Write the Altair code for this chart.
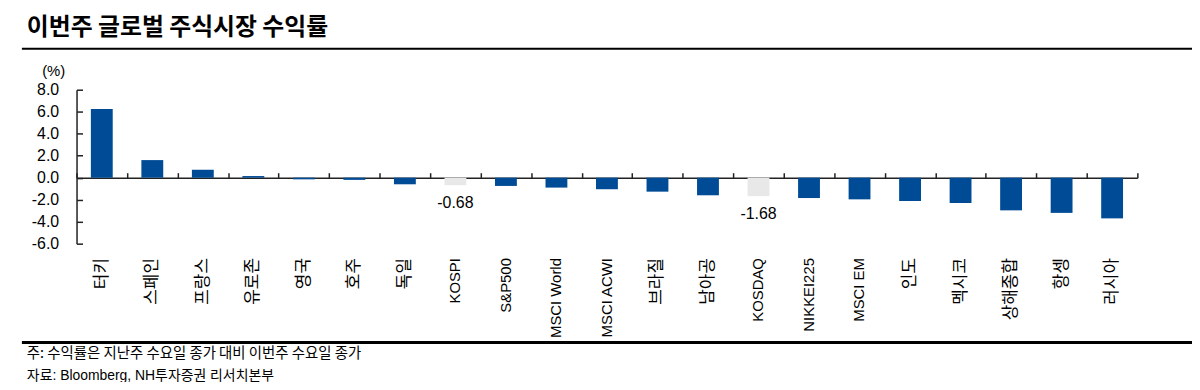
import altair as alt
import pandas as pd

title_text = "이번주 글로벌 주식시장 수익률"
unit_text = "(%)"
note1_text = "주: 수익률은 지난주 수요일 종가 대비 이번주 수요일 종가"
note2_text = "자료: Bloomberg, NH투자증권 리서치본부"

names = ["터키", "스페인", "프랑스", "유로존", "영국", "호주", "독일", "KOSPI", "S&P500",
         "MSCI World", "MSCI ACWI", "브라질", "남아공", "KOSDAQ", "NIKKEI225", "MSCI EM",
         "인도", "멕시코", "상해종합", "항셍", "러시아"]
values = [6.25, 1.6, 0.73, 0.15, -0.15, -0.2, -0.6, -0.68, -0.75,
          -0.9, -1.05, -1.27, -1.6, -1.68, -1.85, -1.97,
          -2.12, -2.3, -2.97, -3.2, -3.7]
highlight = ["KOSPI", "KOSDAQ"]
y_ticks = [-6, -4, -2, 0, 2, 4, 6, 8]

df = pd.DataFrame({"name": names, "value": values})
df["grp"] = ["hl" if n in highlight else "base" for n in names]
df["lbl"] = [f"{v:.2f}" for v in values]
hl_df = df[df["grp"] == "hl"]

W, H = 1068, 155
FONT = "Liberation Sans, Arial, Noto Sans CJK KR, sans-serif"
KFONT = "Noto Sans CJK KR, sans-serif"

xscale = alt.Scale(paddingInner=0, paddingOuter=0)
yscale = alt.Scale(domain=[-6, 8], nice=False, zero=False)

bars = alt.Chart(df).mark_bar(size=22).encode(
    x=alt.X("name:N", sort=None, scale=xscale,
            axis=alt.Axis(orient="bottom", title=None, domain=False, ticks=False, tickSize=0,
                          labelAngle=270,
                          labelFontSize=alt.condition("test(/[A-Za-z]/, datum.label)",
                                                      alt.value(15), alt.value(17)),
                          labelColor="#000", labelFont=FONT,
                          labelPadding=14, labelLimit=300)),
    y=alt.Y("value:Q", scale=yscale,
            axis=alt.Axis(orient="left", title=None, domain=False, ticks=False, tickSize=0,
                          values=y_ticks, grid=False, labelFontSize=16,
                          labelExpr="replace(format(datum.value, '.1f'), '\u2212', '-')",
                          labelColor="#000", labelFont=FONT, labelPadding=18)),
    color=alt.Color("grp:N", scale=alt.Scale(domain=["base", "hl"], range=["#004B96", "#E8E8E8"]),
                    legend=None),
)

value_labels = alt.Chart(hl_df).mark_text(baseline="top", dy=10, fontSize=16, font=FONT,
                                          color="#000").encode(
    x=alt.X("name:N", sort=None, scale=xscale, axis=None),
    y=alt.Y("value:Q", scale=yscale, axis=None),
    text=alt.Text("lbl:N"),
)

struct = alt.Chart(df).mark_bar(opacity=0).encode(
    x=alt.X("name:N", sort=None, scale=xscale,
            axis=alt.Axis(orient="top", offset=-(8 / 14) * H, title=None, labels=False,
                          domain=True, domainColor="#222", domainWidth=1.5,
                          ticks=True, tickSize=5, tickColor="#222", tickWidth=1.5,
                          tickBand="extent", grid=False)),
    y=alt.Y("value:Q", scale=yscale,
            axis=alt.Axis(orient="right", offset=-W, title=None, labels=False,
                          domain=True, domainColor="#222", domainWidth=1.5,
                          ticks=True, tickSize=6, tickColor="#222", tickWidth=1.5,
                          values=y_ticks, grid=False)),
)

one = pd.DataFrame({"k": [0]})

title_mark = alt.Chart(one).mark_text(text=title_text, align="left", baseline="alphabetic",
                                      fontSize=24, fontWeight="bold", font=KFONT,
                                      color="#000").encode(
    x=alt.value(-50), y=alt.value(-55))
underline = alt.Chart(one).mark_rule(color="#000", strokeWidth=2).encode(
    x=alt.value(-55), x2=alt.value(1123), y=alt.value(-41.3))
unit_mark = alt.Chart(one).mark_text(text=unit_text, align="center", baseline="alphabetic",
                                     fontSize=15, font=FONT, color="#000").encode(
    x=alt.value(-23), y=alt.value(-14))
bottom_line = alt.Chart(one).mark_rule(color="#000", strokeWidth=3).encode(
    x=alt.value(-55), x2=alt.value(1123), y=alt.value(254.5))
note1 = alt.Chart(one).mark_text(text=note1_text, align="left", baseline="alphabetic",
                                 fontSize=14.5, font=KFONT, color="#000").encode(
    x=alt.value(-50), y=alt.value(270))
note2 = alt.Chart(one).mark_text(text=note2_text, align="left", baseline="alphabetic",
                                 fontSize=14, font=FONT, color="#000").encode(
    x=alt.value(-50), y=alt.value(292))

chart = alt.layer(bars, value_labels, struct, title_mark, underline, unit_mark,
                  bottom_line, note1, note2).resolve_axis(
    x="independent", y="independent"
).properties(
    width=W, height=H,
    padding={"left": 69, "top": 81, "right": 55, "bottom": 138},
    autosize=alt.AutoSizeParams(type="none"),
).configure_view(stroke=None)

chart.save("out.html", embed_options={"renderer": "svg", "actions": False})
